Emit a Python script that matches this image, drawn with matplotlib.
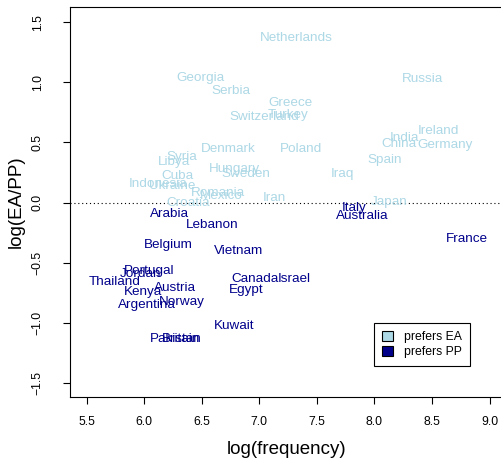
import matplotlib
matplotlib.use("Agg")
import matplotlib.pyplot as plt
from matplotlib.patches import Patch

plt.rcParams["font.family"] = ["Liberation Sans", "DejaVu Sans"]

# -----------------------------
# Data
# -----------------------------
ea_names = ["Netherlands", "Georgia", "Serbia", "Greece", "Turkey", "Switzerland",
            "Russia", "Denmark", "Poland", "Syria", "Libya", "Hungary", "Sweden",
            "Cuba", "Indonesia", "Ukraine", "Romania", "Mexico", "Croatia", "Iran",
            "Iraq", "Spain", "India", "China", "Ireland", "Germany", "Japan"]
ea_x = [7.32, 6.49, 6.75, 7.27, 7.25, 7.04,
        8.42, 6.73, 7.36, 6.33, 6.26, 6.78, 6.88,
        6.29, 6.12, 6.24, 6.64, 6.67, 6.38, 7.13,
        7.72, 8.09, 8.26, 8.21, 8.56, 8.61, 8.13]
ea_y = [1.38, 1.05, 0.94, 0.84, 0.74, 0.72,
        1.04, 0.46, 0.46, 0.39, 0.35, 0.29, 0.25,
        0.23, 0.17, 0.15, 0.09, 0.07, 0.01, 0.05,
        0.25, 0.37, 0.55, 0.50, 0.61, 0.49, 0.02]

pp_names = ["Italy", "Australia", "France", "Arabia", "Lebanon", "Belgium",
            "Vietnam", "Portugal", "Jordan", "Thailand", "Austria", "Kenya",
            "Norway", "Argentina", "Canada", "Israel", "Egypt", "Kuwait",
            "Pakistan", "Britain"]
pp_x = [7.82, 7.89, 8.80, 6.22, 6.59, 6.21,
        6.82, 6.04, 5.97, 5.74, 6.27, 5.99,
        6.33, 6.02, 6.96, 7.30, 6.89, 6.78,
        6.27, 6.32]
pp_y = [-0.03, -0.10, -0.29, -0.08, -0.17, -0.34,
        -0.39, -0.56, -0.58, -0.65, -0.70, -0.73,
        -0.81, -0.84, -0.62, -0.62, -0.71, -1.01,
        -1.12, -1.12]

x_ticks = [5.5, 6.0, 6.5, 7.0, 7.5, 8.0, 8.5, 9.0]
y_ticks = [-1.5, -1.0, -0.5, 0.0, 0.5, 1.0, 1.5]

EA_COL = "lightblue"
PP_COL = "darkblue"

# -----------------------------
# Plot
# -----------------------------
fig = plt.figure(figsize=(5.01, 4.59), dpi=100)
ax = fig.add_axes([70 / 501, 1 - 397 / 459, 433 / 501, 390 / 459])

for name, x, y in zip(ea_names, ea_x, ea_y):
    ax.text(x, y, name, color=EA_COL, fontsize=9.7, ha="center", va="center_baseline")
for name, x, y in zip(pp_names, pp_x, pp_y):
    ax.text(x, y, name, color=PP_COL, fontsize=9.7, ha="center", va="center_baseline")

ax.axhline(0, color="black", linestyle=(0, (1, 2.5)), linewidth=0.8)

ax.set_xlim(5.355, 9.117)
ax.set_ylim(-1.616, 1.626)
ax.set_xticks(x_ticks)
ax.set_xticklabels([f"{v:.1f}" for v in x_ticks])
ax.set_yticks(y_ticks)
ax.set_yticklabels([f"{v:.1f}".replace("-", "\u2212") for v in y_ticks],
                   rotation=90, va="center")
ax.tick_params(direction="out", length=5, width=0.8, labelsize=8.7)
ax.tick_params(axis="x", pad=9)
ax.tick_params(axis="y", pad=14)
for s in ax.spines.values():
    s.set_linewidth(0.8)
ax.spines["right"].set_visible(False)  # falls off the edge in the original

ax.set_xlabel("log(frequency)", fontsize=13.5, labelpad=9)
ax.set_ylabel("log(EA/PP)", fontsize=13.5, labelpad=5)

handles = [Patch(facecolor=EA_COL, edgecolor="black", linewidth=0.8, label="prefers EA"),
           Patch(facecolor=PP_COL, edgecolor="black", linewidth=0.8, label="prefers PP")]
leg = ax.legend(handles=handles, loc="upper left", bbox_to_anchor=(0.702, 0.19),
                fontsize=8.8, frameon=True, fancybox=False, framealpha=1,
                edgecolor="black", handlelength=0.9, handleheight=0.9,
                handletextpad=0.9, borderpad=0.65, labelspacing=0.25,
                borderaxespad=0)
leg.get_frame().set_linewidth(0.8)

fig.savefig("out.png", dpi=100)
